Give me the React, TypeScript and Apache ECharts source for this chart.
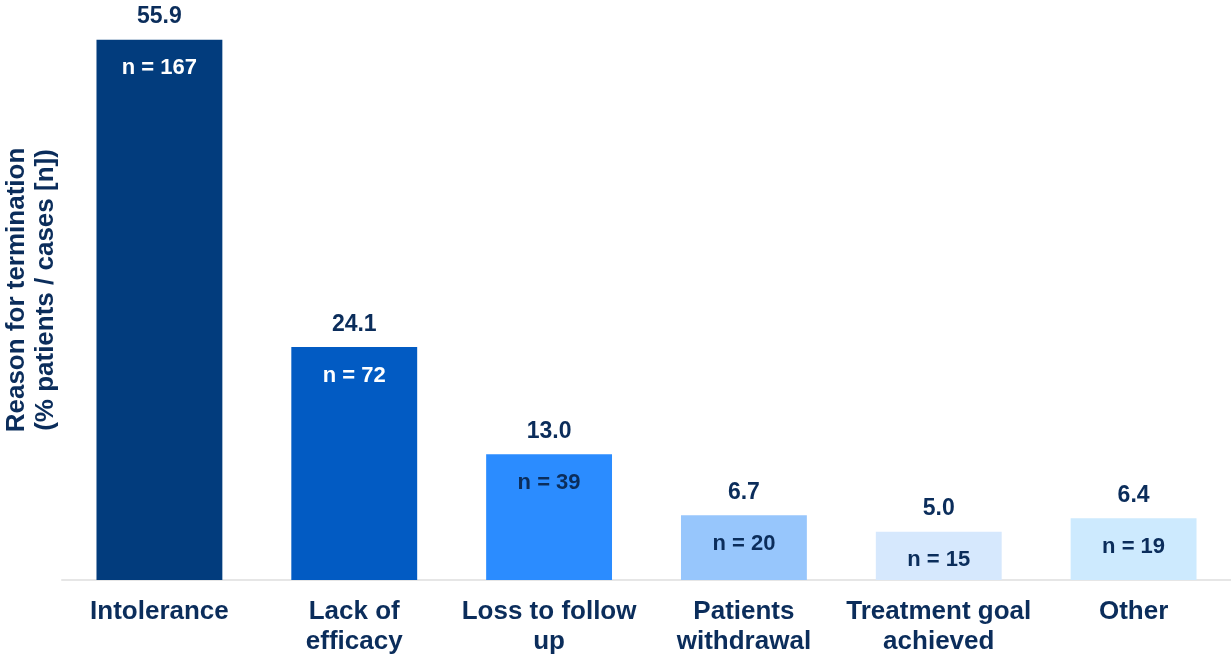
import React, { useEffect, useRef } from "react";
import * as echarts from "echarts";

const categories = [
  "Intolerance",
  "Lack of\nefficacy",
  "Loss to follow\nup",
  "Patients\nwithdrawal",
  "Treatment goal\nachieved",
  "Other",
];
const percentValues = [55.9, 24.1, 13.0, 6.7, 5.0, 6.4];
const caseCounts = [167, 72, 39, 20, 15, 19];
const barColors = ["#023C7D", "#025BC3", "#2B8CFF", "#97C6FC", "#D6E8FD", "#CDEAFE"];
const countLabelColors = ["#FFFFFF", "#FFFFFF", "#0B2D5B", "#0B2D5B", "#0B2D5B", "#0B2D5B"];
const yAxisTitle = "Reason for termination\n(% patients / cases [n])";

const TEXT = "#0B2D5B";
const FONT = "'Liberation Sans', Arial, sans-serif";

export default function App() {
  const ref = useRef<HTMLDivElement>(null);
  useEffect(() => {
    if (!ref.current) return;
    const chart = echarts.init(ref.current, undefined, { renderer: "svg" });
    chart.setOption({
      animation: false,
      textStyle: { fontFamily: FONT },
      grid: {
        left: 62,
        right: 0,
        top: 0,
        bottom: 77,
        containLabel: false,
        outerBoundsMode: "none",
      },
      xAxis: {
        type: "category",
        data: categories,
        axisLine: { show: true, lineStyle: { color: "#E6E6E6", width: 2 } },
        axisTick: { show: false },
        axisLabel: {
          color: TEXT,
          fontFamily: FONT,
          fontWeight: "bold",
          fontSize: 26,
          lineHeight: 30,
          margin: 15,
          interval: 0,
        },
      },
      yAxis: {
        type: "value",
        min: 0,
        max: 60,
        show: true,
        axisLine: { show: false },
        axisTick: { show: false },
        axisLabel: { show: false },
        splitLine: { show: false },
        name: yAxisTitle,
        nameLocation: "middle",
        nameRotate: 90,
        nameGap: 4,
        nameTextStyle: {
          color: TEXT,
          fontFamily: FONT,
          fontWeight: "bold",
          fontSize: 26,
          lineHeight: 29,
        },
      },
      series: [
        {
          type: "bar",
          barWidth: "64.6%",
          data: percentValues.map((v, i) => ({
            value: v,
            itemStyle: { color: barColors[i] },
          })),
          label: {
            show: true,
            position: "top",
            distance: 13,
            color: TEXT,
            fontFamily: FONT,
            fontWeight: "bold",
            fontSize: 23,
            formatter: (p: any) => Number(p.value).toFixed(1),
          },
        },
        {
          type: "bar",
          barWidth: "64.6%",
          barGap: "-100%",
          silent: true,
          data: percentValues.map((v, i) => ({
            value: v,
            itemStyle: { color: "rgba(0,0,0,0)" },
            label: { color: countLabelColors[i] },
          })),
          label: {
            show: true,
            position: "insideTop",
            distance: 16,
            fontFamily: FONT,
            fontWeight: "bold",
            fontSize: 22,
            formatter: (p: any) => "n = " + caseCounts[p.dataIndex],
          },
        },
      ],
    });
    return () => chart.dispose();
  }, []);
  return (
    <div
      ref={ref}
      style={{ position: "fixed", left: 0, top: 0, width: 1231, height: 657 }}
    />
  );
}
